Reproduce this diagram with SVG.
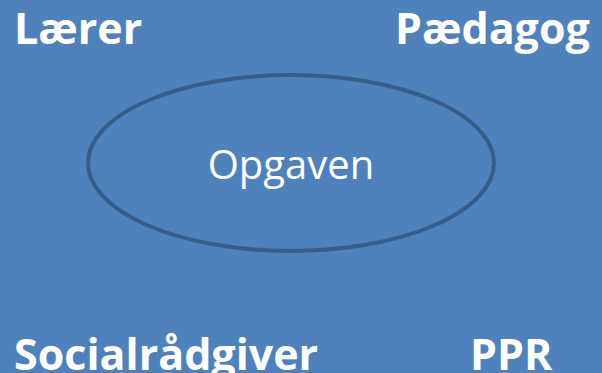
<svg xmlns="http://www.w3.org/2000/svg" width="602" height="373" viewBox="0 0 602 373">
<style>
.lbl{font-family:"Open Sans","Liberation Sans",sans-serif;font-weight:bold;font-size:43px;fill:#ffffff}
.in{font-family:"Open Sans","Liberation Sans",sans-serif;font-size:40px;fill:#ffffff}
</style>
<rect x="0" y="0" width="602" height="373" fill="#4f81bd"/>
<g id="laerer"><text class="lbl" x="14" y="44">Lærer</text></g>
<g id="paedagog"><text class="lbl" x="395" y="44">Pædagog</text></g>
<g id="opgaven">
<ellipse cx="291" cy="163" rx="203" ry="88" fill="#4f81bd" stroke="#385d8a" stroke-width="4"/>
<text class="in" x="291" y="179" text-anchor="middle">Opgaven</text>
</g>
<g id="socialraadgiver"><text class="lbl" x="14" y="370">Socialrådgiver</text></g>
<g id="ppr"><text class="lbl" x="470" y="370">PPR</text></g>
<g id="connectors"></g>
</svg>
